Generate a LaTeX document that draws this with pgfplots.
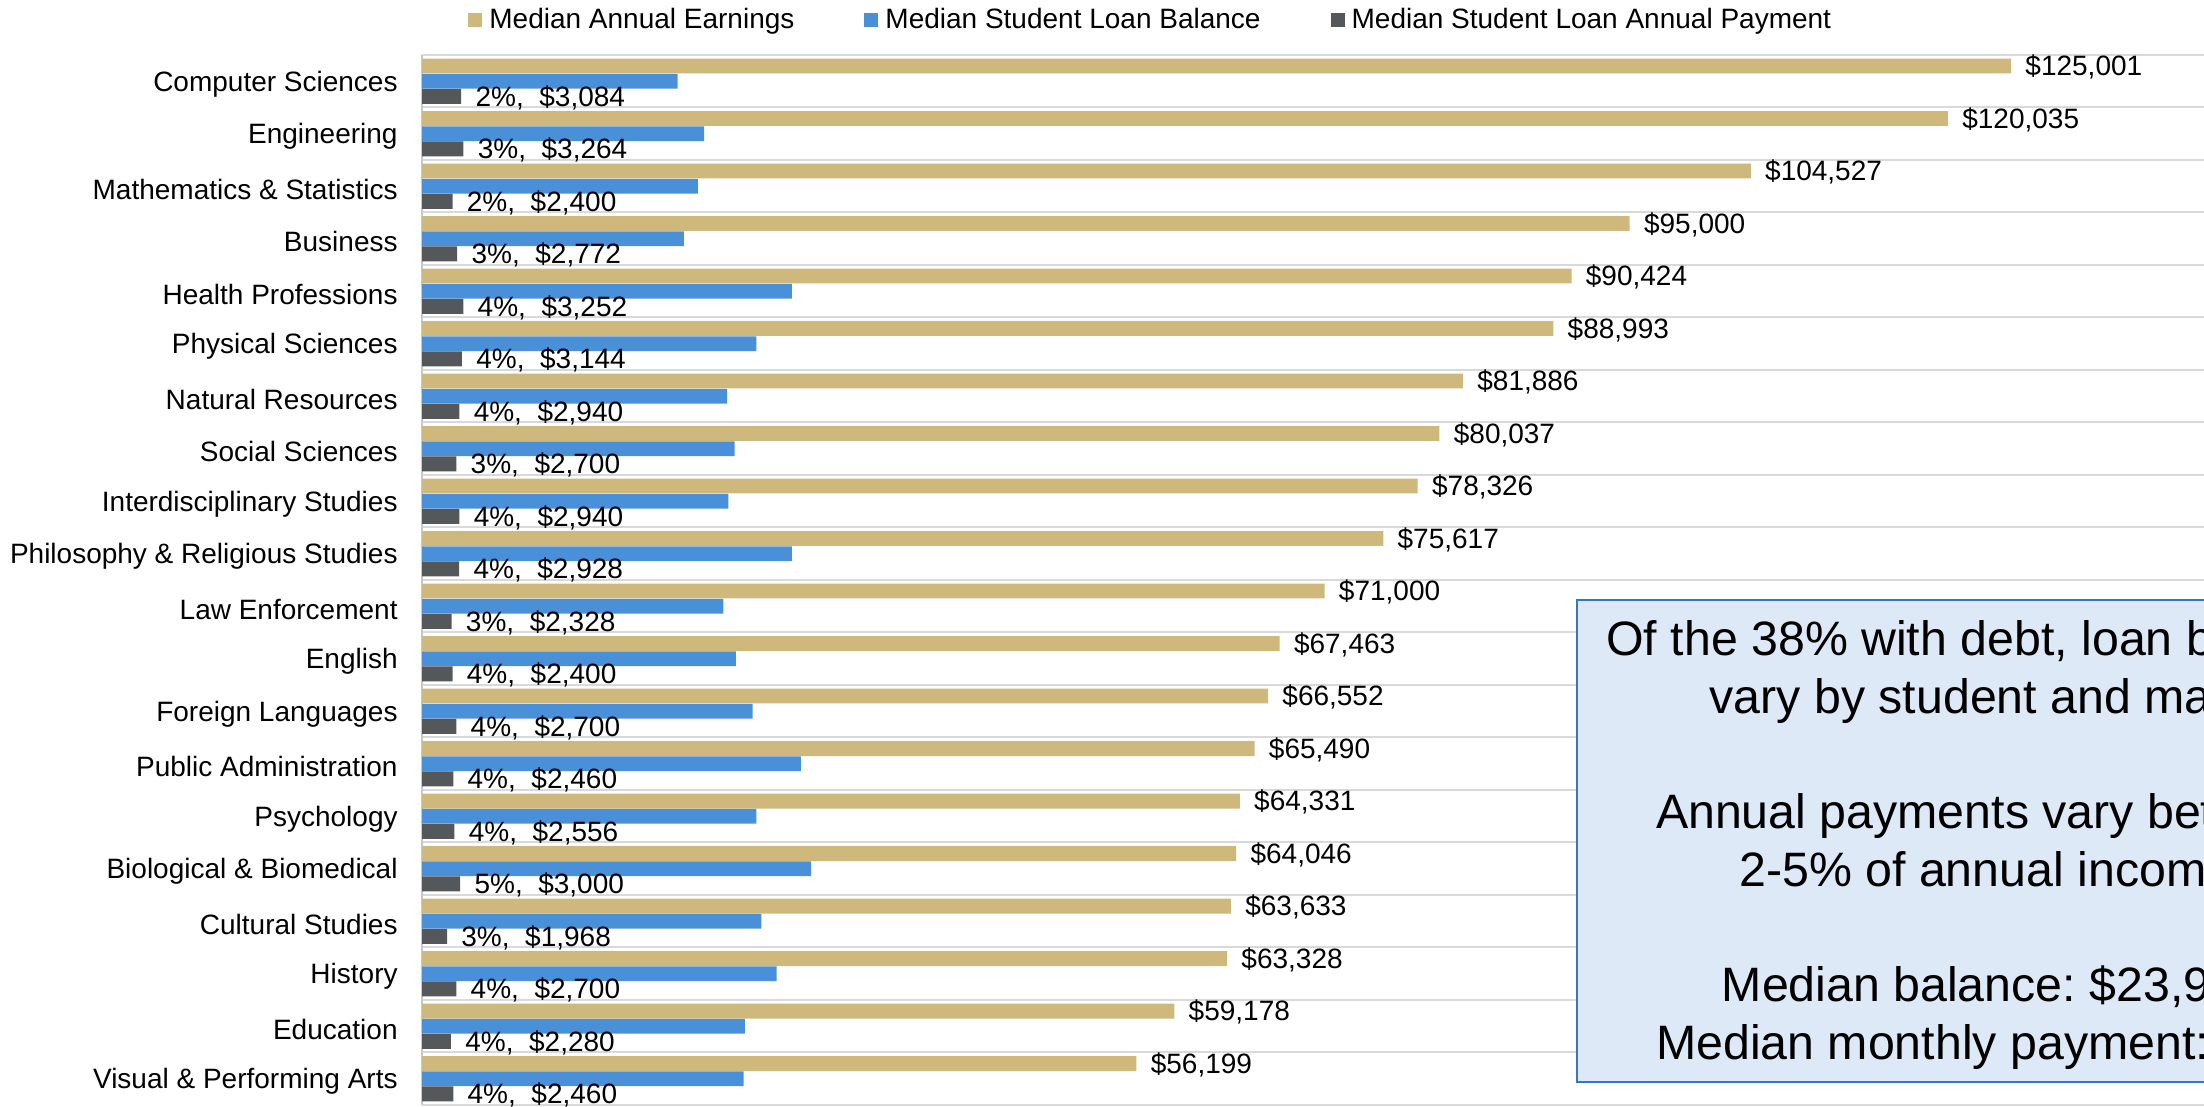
\documentclass[border=0pt]{standalone}
\usepackage{fontspec}
\setmainfont{Liberation Sans}
\usepackage{pgfplots}
\pgfplotsset{compat=1.18}
\frenchspacing
\definecolor{cgold}{RGB}{206,184,124}
\definecolor{cblue}{RGB}{74,144,217}
\definecolor{cdark}{RGB}{84,88,90}
\definecolor{cgrid}{RGB}{217,217,217}
\definecolor{caxis}{RGB}{200,200,200}
\definecolor{boxfill}{RGB}{222,233,247}
\definecolor{boxborder}{RGB}{52,120,196}
\newcommand{\lblfont}{\fontsize{14pt}{16.8pt}\selectfont}
\begin{document}
\begin{tikzpicture}
\useasboundingbox (0,0) rectangle (1102pt,553.5pt);
\begin{axis}[
  at={(211pt,1pt)}, anchor=south west,
  scale only axis,
  width=891pt, height=525pt,
  xmin=0, xmax=140180,
  ymin=-0.5, ymax=19.5,
  enlargelimits=false,
  axis x line=none,
  axis y line*=left,
  y axis line style={draw=caxis, line width=1.2pt},
  ytick={0,...,19},
  yticklabels={Visual \& Performing Arts, Education, History, Cultural Studies, Biological \& Biomedical, Psychology, Public Administration, Foreign Languages, English, Law Enforcement, Philosophy \& Religious Studies, Interdisciplinary Studies, Social Sciences, Natural Resources, Physical Sciences, Health Professions, Business, Mathematics \& Statistics, Engineering, Computer Sciences},
  yticklabel style={font=\lblfont, anchor=east, inner sep=0pt, xshift=-12pt, yshift=-1.4pt},
  major tick length=0pt, minor tick length=0pt,
  minor ytick={-0.5,0.5,...,19.5},
  yminorgrids=true,
  minor grid style={draw=cgrid, line width=1pt},
  xbar,
  bar width=0.285,
  point meta=explicit symbolic,
  nodes near coords style={font=\lblfont, anchor=west, inner sep=0pt, xshift=7pt, yshift=-0.7pt, text=black},
  legend columns=3,
  legend style={draw=none, fill=none, inner sep=0pt, at={(0.0258,1.0336)}, anchor=west, font=\lblfont,
    nodes={inner sep=0pt},
    /tikz/every odd column/.append style={column sep=3.5pt},
    /tikz/every even column/.append style={column sep=35pt}},
  legend image code/.code={\fill[#1] (0pt,-3.5pt) rectangle (7pt,3.5pt);},
]
\addplot[fill=cgold, draw=none, bar shift=0.29, nodes near coords] coordinates {
(125001,19) [\$125,001]
(120035,18) [\$120,035]
(104527,17) [\$104,527]
(95000,16) [\$95,000]
(90424,15) [\$90,424]
(88993,14) [\$88,993]
(81886,13) [\$81,886]
(80037,12) [\$80,037]
(78326,11) [\$78,326]
(75617,10) [\$75,617]
(71000,9) [\$71,000]
(67463,8) [\$67,463]
(66552,7) [\$66,552]
(65490,6) [\$65,490]
(64331,5) [\$64,331]
(64046,4) [\$64,046]
(63633,3) [\$63,633]
(63328,2) [\$63,328]
(59178,1) [\$59,178]
(56199,0) [\$56,199]
};
\addlegendentry{Median Annual Earnings}
\addplot[fill=cblue, draw=none, bar shift=0] coordinates {
(20100,19) (22200,18) (21700,17) (20600,16) (29100,15) (26300,14) (24000,13) (24600,12) (24100,11) (29100,10)
(23700,9) (24700,8) (26000,7) (29800,6) (26300,5) (30600,4) (26700,3) (27900,2) (25400,1) (25300,0)
};
\addlegendentry{Median Student Loan Balance}
\addplot[fill=cdark, draw=none, bar shift=-0.29, nodes near coords] coordinates {
(3084,19) [2\%,\ \ \$3,084]
(3264,18) [3\%,\ \ \$3,264]
(2400,17) [2\%,\ \ \$2,400]
(2772,16) [3\%,\ \ \$2,772]
(3252,15) [4\%,\ \ \$3,252]
(3144,14) [4\%,\ \ \$3,144]
(2940,13) [4\%,\ \ \$2,940]
(2700,12) [3\%,\ \ \$2,700]
(2940,11) [4\%,\ \ \$2,940]
(2928,10) [4\%,\ \ \$2,928]
(2328,9) [3\%,\ \ \$2,328]
(2400,8) [4\%,\ \ \$2,400]
(2700,7) [4\%,\ \ \$2,700]
(2460,6) [4\%,\ \ \$2,460]
(2556,5) [4\%,\ \ \$2,556]
(3000,4) [5\%,\ \ \$3,000]
(1968,3) [3\%,\ \ \$1,968]
(2700,2) [4\%,\ \ \$2,700]
(2280,1) [4\%,\ \ \$2,280]
(2460,0) [4\%,\ \ \$2,460]
};
\addlegendentry{Median Student Loan Annual Payment}
\end{axis}
\node[draw=boxborder, fill=boxfill, line width=1pt, minimum width=414.5pt, minimum height=241pt,
      inner sep=0pt, align=center, font=\fontsize{24.15pt}{28.8pt}\selectfont]
  at (995.75pt,133pt) {};
\node[inner sep=0pt, align=center, font=\fontsize{24.15pt}{28.8pt}\selectfont]
  at (996.5pt,131pt) {Of the 38\% with debt, loan balances\\ vary by student and major.\\ \mbox{}\\ Annual payments vary between\\ 2-5\% of annual income.\\ \mbox{}\\ Median balance: \$23,900\\ Median monthly payment: \$230};
\end{tikzpicture}
\end{document}
